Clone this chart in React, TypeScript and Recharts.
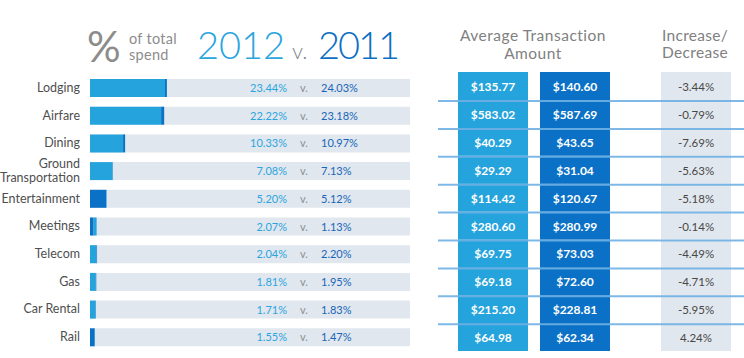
import React from "react";
import { BarChart, Bar, XAxis, YAxis, Cell, LabelList } from "recharts";

const categories = ["Lodging", "Airfare", "Dining", "Ground Transportation", "Entertainment", "Meetings", "Telecom", "Gas", "Car Rental", "Rail"];
const share2012 = [23.44, 22.22, 10.33, 7.08, 5.2, 2.07, 2.04, 1.81, 1.71, 1.55];
const share2011 = [24.03, 23.18, 10.97, 7.13, 5.12, 1.13, 2.2, 1.95, 1.83, 1.47];
const avg2012 = [135.77, 583.02, 40.29, 29.29, 114.42, 280.6, 69.75, 69.18, 215.2, 64.98];
const avg2011 = [140.6, 587.69, 43.65, 31.04, 120.67, 280.99, 73.03, 72.6, 228.81, 62.34];
const change = [-3.44, -0.79, -7.69, -5.63, -5.18, -0.14, -4.49, -4.71, -5.95, 4.24];

const LIGHT = "#25a3dc";
const DARK = "#0a71c6";
const GREY = "#e1e7ee";
const LINE = "#6fb0e3";
const FONT = "Lato, 'Open Sans', sans-serif";

const rows = categories.map((name, i) => ({
  name,
  s12: share2012[i],
  s11: share2011[i],
  front: Math.min(share2012[i], share2011[i]),
  back: Math.abs(share2012[i] - share2011[i]),
  a12: avg2012[i],
  a11: avg2011[i],
  chg: change[i],
}));

const pct = (v: number) => `${v.toFixed(2)}%`;
const money = (v: number) => `$${v.toFixed(2)}`;

function CatTick(props: any) {
  const { x, y, payload } = props;
  const label: string = payload.value;
  const lines = label.length > 14 ? label.split(" ") : [label];
  const step = 14;
  const start = -((lines.length - 1) * step) / 2;
  return (
    <text x={x} y={y} textAnchor="end" fill="#4f4f4f" fontSize={12.5} fontFamily={FONT}>
      {lines.map((l, i) => (
        <tspan key={i} x={x} dy={i === 0 ? start + 4 : step}>
          {l}
        </tspan>
      ))}
    </text>
  );
}

function PctLabel(props: any) {
  const { y, height, value } = props;
  const i = categories.indexOf(value);
  if (i < 0) return null;
  const cy = y + height / 2 + 4;
  return (
    <g fontFamily={FONT} fontSize={11}>
      <text x={287} y={cy} textAnchor="end" fill="#2ba5df">{pct(share2012[i])}</text>
      <text x={300} y={cy} textAnchor="start" fill="#8a9098">v.</text>
      <text x={321} y={cy} textAnchor="start" fill="#1766b9">{pct(share2011[i])}</text>
    </g>
  );
}

function RowLine(props: any) {
  const { background, index } = props;
  if (!background || index >= categories.length - 1) return null;
  const yy = background.y + background.height;
  return (
    <line
      x1={background.x}
      x2={background.x + background.width}
      y1={yy}
      y2={yy}
      stroke={LINE}
      strokeWidth={2}
      strokeOpacity={0.9}
    />
  );
}

function ColumnChart(props: {
  left: number;
  width: number;
  dataKey: string;
  fill: string;
  color: string;
  bold: boolean;
  fmt: (v: number) => string;
}) {
  const { left, width, dataKey, fill, color, bold, fmt } = props;
  return (
    <div style={{ position: "absolute", left, top: 0 }}>
      <BarChart
        layout="vertical"
        width={width}
        height={358}
        data={rows}
        margin={{ top: 72, right: 0, bottom: 7, left: 0 }}
        barCategoryGap={0}
      >
        <XAxis
          type="number"
          hide
          domain={[(m: number) => Math.min(0, m), (m: number) => Math.max(0, m)]}
        />
        <YAxis type="category" dataKey="name" hide />
        <Bar dataKey={dataKey} fill="none" background={{ fill }} isAnimationActive={false}>
          <LabelList
            dataKey={dataKey}
            content={(p: any) => (
              <text
                x={width / 2}
                y={p.y + p.height / 2 + 5}
                textAnchor="middle"
                fill={color}
                fontSize={bold ? 12 : 11.5}
                fontWeight={bold ? 700 : 400}
                fontFamily={FONT}
              >
                {fmt(p.value)}
              </text>
            )}
          />
        </Bar>
      </BarChart>
    </div>
  );
}

export default function App() {
  return (
    <div
      style={{
        position: "absolute",
        left: 0,
        top: 0,
        width: 744,
        height: 358,
        background: "#ffffff",
        fontFamily: FONT,
        overflow: "hidden",
      }}
    >
      <svg width={744} height={72} style={{ position: "absolute", left: 0, top: 0 }}>
        <g fontFamily={FONT}>
          <text x={87} y={62} fontSize={42} fill="#8c8c8c" fontWeight={400}>%</text>
          <text x={129} y={44} fontSize={14.5} fill="#8c8c8c" letterSpacing={0.3}>of total</text>
          <text x={129} y={59.5} fontSize={14.5} fill="#8c8c8c" letterSpacing={0.3}>spend</text>
          <text x={197} y={59} fontSize={38} fill="#2aa5df" fontWeight={300}>2012</text>
          <text x={292} y={59} fontSize={22} fill="#7d8791" fontWeight={300}>v.</text>
          <text x={318} y={59} fontSize={38} fill="#0b6fc4" fontWeight={300} letterSpacing={-2}>2011</text>
          <text x={533} y={41} fontSize={15.5} fill="#808080" textAnchor="middle" letterSpacing={0.5}>Average Transaction</text>
          <text x={533} y={59} fontSize={15.5} fill="#808080" textAnchor="middle" letterSpacing={0.5}>Amount</text>
          <text x={695} y={41} fontSize={15.5} fill="#808080" textAnchor="middle" letterSpacing={0.3}>Increase/</text>
          <text x={695} y={58} fontSize={15.5} fill="#808080" textAnchor="middle" letterSpacing={0.3}>Decrease</text>
        </g>
      </svg>

      <div style={{ position: "absolute", left: 0, top: 0 }}>
        <BarChart
          layout="vertical"
          width={420}
          height={358}
          data={rows}
          margin={{ top: 74, right: 10, bottom: 7, left: 0 }}
          barSize={18}
        >
          <XAxis type="number" domain={[0, 100]} hide />
          <YAxis
            type="category"
            dataKey="name"
            width={90}
            axisLine={false}
            tickLine={false}
            tickSize={0}
            tickMargin={10}
            interval={0}
            tick={<CatTick />}
          />
          <Bar dataKey="front" stackId="s" isAnimationActive={false} background={{ fill: GREY }}>
            {rows.map((r, i) => (
              <Cell key={i} fill={r.s12 <= r.s11 ? LIGHT : DARK} />
            ))}
          </Bar>
          <Bar dataKey="back" stackId="s" isAnimationActive={false}>
            {rows.map((r, i) => (
              <Cell key={i} fill={r.s12 > r.s11 ? LIGHT : DARK} />
            ))}
            <LabelList dataKey="name" content={<PctLabel />} />
          </Bar>
        </BarChart>
      </div>

      <ColumnChart left={458} width={70} dataKey="a12" fill={LIGHT} color="#ffffff" bold fmt={money} />
      <ColumnChart left={540} width={70} dataKey="a11" fill={DARK} color="#ffffff" bold fmt={money} />
      <ColumnChart left={661} width={70} dataKey="chg" fill={GREY} color="#474747" bold={false} fmt={pct} />

      <div style={{ position: "absolute", left: 438, top: 0 }}>
        <BarChart
          layout="vertical"
          width={306}
          height={358}
          data={rows}
          margin={{ top: 73, right: 0, bottom: 6, left: 0 }}
          barCategoryGap={0}
        >
          <XAxis type="number" hide domain={[0, "dataMax"]} />
          <YAxis type="category" dataKey="name" hide />
          <Bar dataKey="a12" fill="none" isAnimationActive={false} shape={<RowLine />} background={{ fill: "none" }} />
        </BarChart>
      </div>
    </div>
  );
}
